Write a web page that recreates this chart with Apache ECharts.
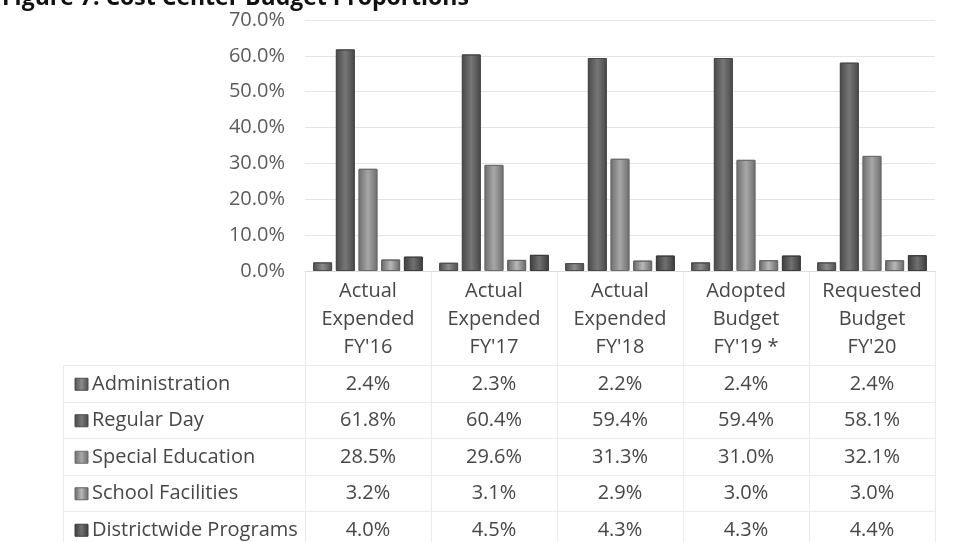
<!DOCTYPE html>
<html>
<head>
<meta charset="UTF-8">
<title>cost-center-budget</title>
<script type="text/javascript" src="https://cdn.jsdelivr.net/npm/echarts@6/dist/echarts.min.js"></script>
<style>
  html, body { margin: 0; padding: 0; background: #fff; }
  #container { width: 958px; height: 542px; }
</style>
</head>
<body>
<div id="container"></div>
<script type="text/javascript">
// categories (x axis / table columns)
var categories = ["Actual\nExpended\nFY'16", "Actual\nExpended\nFY'17", "Actual\nExpended\nFY'18", "Adopted\nBudget\nFY'19 *", "Requested\nBudget\nFY'20"];
var seriesNames = ['Administration', 'Regular Day', 'Special Education', 'School Facilities', 'Districtwide Programs'];

// values in percent
var administration = [2.4, 2.3, 2.2, 2.4, 2.4];
var regularDay = [61.8, 60.4, 59.4, 59.4, 58.1];
var specialEducation = [28.5, 29.6, 31.3, 31.0, 32.1];
var schoolFacilities = [3.2, 3.1, 2.9, 3.0, 3.0];
var districtwide = [4.0, 4.5, 4.3, 4.3, 4.4];

var allValues = [administration, regularDay, specialEducation, schoolFacilities, districtwide];

// bar shades: [edge, centre]
var shades = [
    ['#4e4e4e', '#8c8c8c'],
    ['#484848', '#777777'],
    ['#6c6c6c', '#a8a8a8'],
    ['#666666', '#b8b8b8'],
    ['#3c3c3c', '#707070']
];

var font = '"Open Sans", "Liberation Sans", sans-serif';
var dom = document.getElementById('container');
var myChart = echarts.init(dom);

function barStyle(s) {
    return {
        color: new echarts.graphic.LinearGradient(0, 0, 1, 0, [
            {offset: 0, color: s[0]},
            {offset: 0.5, color: s[1]},
            {offset: 1, color: s[0]}
        ]),
        borderColor: s[0],
        borderWidth: 1
    };
}

var series = [];
for (var i = 0; i < seriesNames.length; i++) {
    series.push({
        name: seriesNames[i],
        type: 'bar',
        data: allValues[i],
        barGap: '20%',
        barCategoryGap: '13%',
        itemStyle: barStyle(shades[i])
    });
}

var option = {
    animation: false,
    backgroundColor: '#ffffff',
    grid: {left: 305, right: 23, top: 20, bottom: 271},
    xAxis: {
        type: 'category',
        data: categories,
        axisTick: {show: false},
        axisLine: {lineStyle: {color: '#dcdcdc'}},
        axisLabel: {
            interval: 0,
            hideOverlap: false,
            color: '#474747',
            fontFamily: font,
            fontSize: 20,
            lineHeight: 28,
            margin: 6
        }
    },
    yAxis: {
        type: 'value',
        min: 0,
        max: 70,
        interval: 10,
        axisLine: {show: false},
        axisTick: {show: false},
        splitLine: {lineStyle: {color: '#e4e4e4'}},
        axisLabel: {
            color: '#5c5c5c',
            fontFamily: font,
            fontSize: 20,
            margin: 20,
            formatter: function (v) { return v.toFixed(1) + '%'; }
        }
    },
    series: series
};
myChart.setOption(option);

// data table under the axis, columns follow the category axis
var elements = [];
var rowTop = 365, rowH = 36.5;
var colW = myChart.convertToPixel({xAxisIndex: 0}, 1) - myChart.convertToPixel({xAxisIndex: 0}, 0);
var firstX = myChart.convertToPixel({xAxisIndex: 0}, 0);
var lineColor = '#ebebeb';

// title, clipped at the top like the scan
elements.push({
    type: 'text', left: 2, top: -13,
    style: {text: 'Figure 7: Cost Center Budget Proportions', font: 'bold 23px ' + font, fill: '#111'}
});

// vertical boundaries
for (var c = 0; c <= categories.length; c++) {
    var bx = Math.round(firstX - colW / 2 + c * colW) + 0.5;
    elements.push({type: 'line', shape: {x1: bx, y1: 271, x2: bx, y2: 542}, style: {stroke: lineColor, lineWidth: 1}});
}
elements.push({type: 'line', shape: {x1: 63.5, y1: rowTop, x2: 63.5, y2: 542}, style: {stroke: lineColor, lineWidth: 1}});
// horizontal row lines
for (var r = 0; r <= seriesNames.length; r++) {
    var ly = Math.round(rowTop + r * rowH) + 0.5;
    elements.push({type: 'line', shape: {x1: 63, y1: ly, x2: Math.round(firstX - colW / 2 + categories.length * colW), y2: ly}, style: {stroke: lineColor, lineWidth: 1}});
}

for (var s = 0; s < seriesNames.length; s++) {
    var cy = rowTop + rowH * s + rowH / 2 + 1;
    elements.push({
        type: 'rect', shape: {x: 75, y: cy - 6, width: 13, height: 12},
        style: {fill: new echarts.graphic.LinearGradient(0, 0, 1, 0, [
            {offset: 0, color: shades[s][0]}, {offset: 0.5, color: shades[s][1]}, {offset: 1, color: shades[s][0]}
        ]), stroke: shades[s][0]}
    });
    elements.push({
        type: 'text', x: 92, y: cy,
        style: {text: seriesNames[s], font: '20px ' + font, fill: '#474747', textVerticalAlign: 'middle', textAlign: 'left'}
    });
    for (var k = 0; k < categories.length; k++) {
        var cx = myChart.convertToPixel({xAxisIndex: 0}, k);
        elements.push({
            type: 'text', x: cx, y: cy,
            style: {text: allValues[s][k].toFixed(1) + '%', font: '20px ' + font, fill: '#474747', textVerticalAlign: 'middle', textAlign: 'center'}
        });
    }
}

myChart.setOption({graphic: {elements: elements}});
</script>
</body>
</html>
